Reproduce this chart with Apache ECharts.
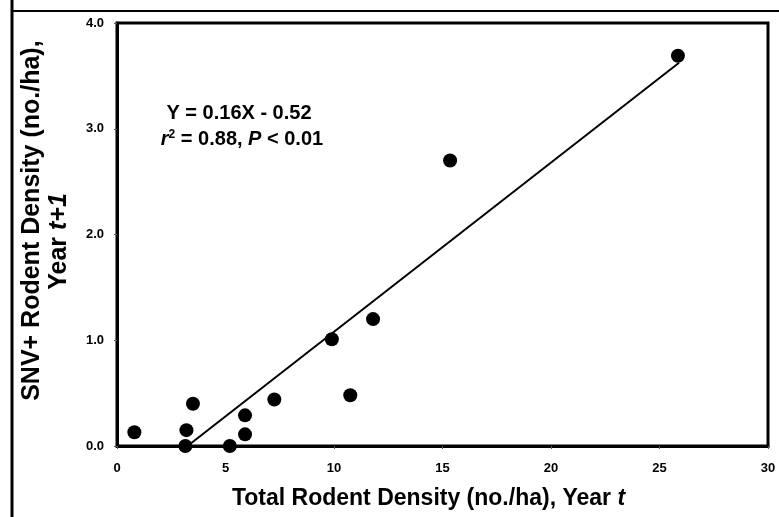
<!DOCTYPE html>
<html lang="en">
<head>
    <meta charset="UTF-8">
    <title>SNV+ rodent density</title>
    <style>
        * { margin: 0; padding: 0; }
        body { background: #fff; }
        .mychart { width: 779px; height: 517px; }
    </style>
</head>
<body>
    <div class="mychart"></div>
</body>
<script src="https://cdn.jsdelivr.net/npm/echarts@6/dist/echarts.min.js"></script>
<script>
    // total rodent density, year t (no./ha)
    const totalDensity = [0.8, 3.2, 3.15, 3.5, 5.2, 5.9, 5.9, 7.25, 9.9, 10.75, 11.8, 15.35, 25.85];
    // SNV+ rodent density, year t+1 (no./ha)
    const snvDensity = [0.13, 0.15, 0.0, 0.40, 0.0, 0.29, 0.11, 0.44, 1.01, 0.48, 1.20, 2.70, 3.69];
    // fitted line Y = 0.16X - 0.52, drawn between these X values
    const fitX = [3.25, 25.9];
    const slope = 0.16;
    const intercept = -0.52;
    const xTicks = [0, 5, 10, 15, 20, 25, 30];
    const yTicks = [0, 1, 2, 3, 4];

    const points = totalDensity.map((x, i) => [x, snvDensity[i]]);
    const fitLine = fitX.map(x => [x, slope * x + intercept]);

    const font = 'Liberation Sans, Arial, sans-serif';

    const myChart = echarts.init(document.querySelector('.mychart'));

    const config = {
        animation: false,
        grid: {
            left: 117, top: 23, right: 11, bottom: 71,
            show: true, borderColor: '#000', borderWidth: 3
        },
        xAxis: {
            type: 'value',
            min: xTicks[0], max: xTicks[xTicks.length - 1], interval: 5,
            axisLine: { show: true, lineStyle: { color: '#000', width: 3 } },
            axisTick: { show: true, length: 3, lineStyle: { color: '#555', width: 1 } },
            splitLine: { show: false },
            axisLabel: { color: '#000', fontFamily: font, fontWeight: 'bold', fontSize: 13, margin: 16 },
            name: 'Total Rodent Density (no./ha), Year {i|t}',
            nameLocation: 'middle',
            nameGap: 41,
            nameTextStyle: {
                color: '#000', fontFamily: font, fontWeight: 'bold', fontSize: 23,
                padding: [0, 28, 0, 0],
                rich: { i: { fontStyle: 'italic', fontWeight: 'bold', fontSize: 23, fontFamily: font, color: '#000' } }
            }
        },
        yAxis: {
            type: 'value',
            min: yTicks[0], max: yTicks[yTicks.length - 1], interval: 1,
            axisLine: { show: true, lineStyle: { color: '#000', width: 3 } },
            axisTick: { show: true, length: 3, lineStyle: { color: '#555', width: 1 } },
            splitLine: { show: false },
            axisLabel: {
                color: '#000', fontFamily: font, fontWeight: 'bold', fontSize: 13, margin: 13,
                formatter: v => v.toFixed(1)
            },
            // leading/trailing spaces nudge the two lines like the original layout
            name: '    SNV+ Rodent Density (no./ha),\nYear {i|t+1}  ',
            nameLocation: 'middle',
            nameGap: 44,
            nameTextStyle: {
                color: '#000', fontFamily: font, fontWeight: 'bold', fontSize: 25, lineHeight: 27,
                align: 'center',
                rich: { i: { fontStyle: 'italic', fontWeight: 'bold', fontSize: 25, lineHeight: 27, fontFamily: font, color: '#000' } }
            }
        },
        graphic: [
            { type: 'line', shape: { x1: 12, y1: 0, x2: 12, y2: 517 }, style: { stroke: '#000', lineWidth: 3 } },
            { type: 'line', shape: { x1: 11, y1: 11, x2: 779, y2: 11 }, style: { stroke: '#000', lineWidth: 2 } },
            {
                type: 'text', x: 239, y: 113,
                style: {
                    text: 'Y = 0.16X - 0.52',
                    font: 'bold 20px ' + font, fill: '#000',
                    align: 'center', verticalAlign: 'middle'
                }
            },
            {
                type: 'text', x: 242, y: 139,
                style: {
                    text: '{i|r}{s|2} = 0.88, {i|P} < 0.01',
                    font: 'bold 20px ' + font, fill: '#000',
                    align: 'center', verticalAlign: 'middle',
                    rich: {
                        i: { fontStyle: 'italic', fontWeight: 'bold', fontSize: 20, fontFamily: font, fill: '#000' },
                        s: { fontWeight: 'bold', fontSize: 12, fontFamily: font, verticalAlign: 'top', fill: '#000' }
                    }
                }
            }
        ],
        series: [
            {
                type: 'line',
                data: fitLine,
                symbol: 'none',
                lineStyle: { color: '#000', width: 2 },
                z: 2
            },
            {
                type: 'scatter',
                data: points,
                symbol: 'circle',
                symbolSize: 14,
                itemStyle: { color: '#000', opacity: 1 },
                z: 3
            }
        ]
    };

    myChart.setOption(config);
</script>
</html>
